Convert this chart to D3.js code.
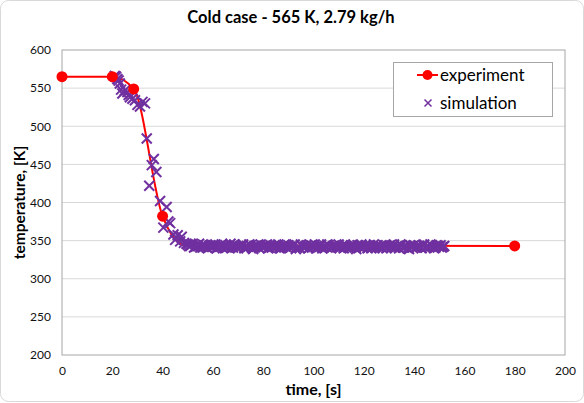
<!DOCTYPE html>
<html>
<head>
<meta charset="utf-8">
<script src="https://cdn.jsdelivr.net/npm/d3@7"></script>
<style>
  html, body { margin: 0; padding: 0; background: #fff; }
  svg { display: block; font-family: Lato, "Open Sans", sans-serif; }
</style>
</head>
<body>
<svg id="chart" width="584" height="403"></svg>
<script>
// ---- data ----
const titleText = "Cold case - 565 K, 2.79 kg/h";
const xLabel = "time, [s]";
const yLabel = "temperature, [K]";
const xTicks = [0, 20, 40, 60, 80, 100, 120, 140, 160, 180, 200];
const yTicks = [200, 250, 300, 350, 400, 450, 500, 550, 600];

const expTime = [0, 20, 28.5, 40, 49, 180];
const expTemp = [565, 565, 549, 382, 344, 343];

// simulation: transient + whole-second samples of the plateau
const simTime = [21, 21.5, 22, 22.5, 23, 23.5, 24, 25, 26, 26.5, 27, 28, 29, 30, 31, 32, 33, 33.7, 34.7, 35.7, 36.5, 37.5, 39, 40.3, 41.6, 42.3, 43, 44.3, 45, 46, 47, 47.6, 48.5, 49.5,
  50, 51, 52, 53, 54, 55, 56, 57, 58, 59,
  60, 61, 62, 63, 64, 65, 66, 67, 68, 69,
  70, 71, 72, 73, 74, 75, 76, 77, 78, 79,
  80, 81, 82, 83, 84, 85, 86, 87, 88, 89,
  90, 91, 92, 93, 94, 95, 96, 97, 98, 99,
  100, 101, 102, 103, 104, 105, 106, 107, 108, 109,
  110, 111, 112, 113, 114, 115, 116, 117, 118, 119,
  120, 121, 122, 123, 124, 125, 126, 127, 128, 129,
  130, 131, 132, 133, 134, 135, 136, 137, 138, 139,
  140, 141, 142, 143, 144, 145, 146, 147, 148, 149,
  150, 151, 152];
const simTemp = [566, 565, 562, 560, 556, 548, 543, 547, 545, 541, 538, 536, 534, 528, 526, 532, 530, 484, 422, 449, 457, 440, 402, 367, 394, 375, 373, 358, 351, 357, 349, 355, 347, 346,
  345, 343, 346, 342, 344, 341, 345, 343, 340, 344,
  342, 345, 341, 343, 340, 344, 342, 346, 341, 343,
  340, 343, 345, 341, 342, 344, 339, 343, 342, 345,
  341, 343, 340, 344, 342, 341, 345, 340, 343, 342,
  344, 341, 343, 339, 342, 345, 341, 343, 340, 344,
  342, 340, 343, 345, 341, 342, 344, 340, 343, 341,
  345, 342, 340, 343, 341, 344, 342, 339, 343, 345,
  341, 344, 342, 340, 345, 343, 341, 342, 344, 340,
  343, 341, 345, 342, 340, 344, 341, 343, 339, 342,
  344, 341, 343, 340, 345, 342, 341, 343, 340, 344,
  342, 341, 343];

// simulation: half-second samples of the plateau
const simHalfTime = [50.5, 51.5, 52.5, 53.5, 54.5, 55.5, 56.5, 57.5, 58.5, 59.5,
  60.5, 61.5, 62.5, 63.5, 64.5, 65.5, 66.5, 67.5, 68.5, 69.5,
  70.5, 71.5, 72.5, 73.5, 74.5, 75.5, 76.5, 77.5, 78.5, 79.5,
  80.5, 81.5, 82.5, 83.5, 84.5, 85.5, 86.5, 87.5, 88.5, 89.5,
  90.5, 91.5, 92.5, 93.5, 94.5, 95.5, 96.5, 97.5, 98.5, 99.5,
  100.5, 101.5, 102.5, 103.5, 104.5, 105.5, 106.5, 107.5, 108.5, 109.5,
  110.5, 111.5, 112.5, 113.5, 114.5, 115.5, 116.5, 117.5, 118.5, 119.5,
  120.5, 121.5, 122.5, 123.5, 124.5, 125.5, 126.5, 127.5, 128.5, 129.5,
  130.5, 131.5, 132.5, 133.5, 134.5, 135.5, 136.5, 137.5, 138.5, 139.5,
  140.5, 141.5, 142.5, 143.5, 144.5, 145.5, 146.5, 147.5, 148.5, 149.5,
  150.5, 151.5];
const simHalfTemp = [343, 345, 341, 343, 346, 342, 344, 341, 343, 342,
  344, 340, 343, 345, 342, 341, 344, 342, 345, 341,
  342, 344, 340, 343, 345, 341, 343, 344, 340, 342,
  343, 345, 341, 342, 344, 343, 340, 342, 345, 341,
  342, 343, 345, 341, 340, 343, 342, 344, 341, 343,
  345, 341, 342, 340, 343, 345, 341, 342, 344, 342,
  341, 343, 345, 342, 340, 343, 341, 344, 341, 342,
  343, 340, 344, 342, 341, 344, 342, 340, 343, 342,
  344, 342, 341, 343, 345, 341, 342, 340, 344, 343,
  341, 343, 342, 344, 341, 343, 345, 342, 341, 343,
  344, 342];

const seriesNames = ["experiment", "simulation"];
const expColor = "#FF0000";
const simColor = "#7030A0";

// ---- drawing ----
const svg = d3.select("#chart");
const W = 584, H = 403;
const x = d3.scaleLinear().domain([0, 200]).range([62, 565]);
const y = d3.scaleLinear().domain([200, 600]).range([355, 50]);

// outer chart border
svg.append("rect").attr("x", 0.5).attr("y", 0.5).attr("width", W - 1).attr("height", H - 2)
  .attr("rx", 8).attr("fill", "#fff").attr("stroke", "#d9d9d9");

// title
svg.append("text").attr("x", 291).attr("y", 23).attr("text-anchor", "middle")
  .attr("font-weight", "bold").attr("font-size", 16.5).attr("fill", "#000").text(titleText);

// gridlines
svg.append("g").selectAll("line").data(yTicks.slice(1, -1)).join("line")
  .attr("x1", x(0)).attr("x2", x(200))
  .attr("y1", d => y(d)).attr("y2", d => y(d))
  .attr("stroke", "#d9d9d9").attr("stroke-width", 1);

// plot border
svg.append("rect").attr("x", x(0)).attr("y", y(600))
  .attr("width", x(200) - x(0)).attr("height", y(200) - y(600))
  .attr("fill", "none").attr("stroke", "#a6a6a6").attr("stroke-width", 1);

// axes
const xAxis = d3.axisBottom(x).tickValues(xTicks).tickSize(0).tickPadding(11);
const gx = svg.append("g").attr("transform", `translate(0,${y(200)})`).call(xAxis);
gx.select(".domain").remove();
gx.selectAll("text").attr("font-size", 12).attr("font-family", "Lato, sans-serif").attr("fill", "#111");

const yAxis = d3.axisLeft(y).tickValues(yTicks).tickSize(0).tickPadding(11);
const gy = svg.append("g").attr("transform", `translate(${x(0)},0)`).call(yAxis);
gy.select(".domain").remove();
gy.selectAll("text").attr("font-size", 12).attr("font-family", "Lato, sans-serif").attr("fill", "#111");

// axis titles
svg.append("text").attr("x", (x(0) + x(200)) / 2).attr("y", 395).attr("text-anchor", "middle")
  .attr("font-weight", "bold").attr("font-size", 16).text(xLabel);
svg.append("text").attr("transform", `translate(25,${(y(200) + y(600)) / 2}) rotate(-90)`)
  .attr("text-anchor", "middle").attr("font-weight", "bold").attr("font-size", 15.5).text(yLabel);

// experiment line
const expData = expTime.map((t, i) => [t, expTemp[i]]);
const line = d3.line().x(d => x(d[0])).y(d => y(d[1])).curve(d3.curveMonotoneX);
svg.append("path").datum(expData).attr("d", line).attr("fill", "none")
  .attr("stroke", expColor).attr("stroke-width", 2);

// simulation crosses
const simData = simTime.map((t, i) => [t, simTemp[i]])
  .concat(simHalfTime.map((t, i) => [t, simHalfTemp[i]]));
const cross = "M-5,-5L5,5M5,-5L-5,5";
svg.append("g").selectAll("path").data(simData).join("path")
  .attr("transform", d => `translate(${x(d[0])},${y(d[1])})`)
  .attr("d", cross).attr("stroke", simColor).attr("stroke-width", 2).attr("fill", "none");

// experiment dots (drawn above line)
svg.append("g").selectAll("circle").data(expData.filter(d => d[0] !== 49)).join("circle")
  .attr("cx", d => x(d[0])).attr("cy", d => y(d[1])).attr("r", 5.5).attr("fill", expColor);

// legend
const lg = svg.append("g");
lg.append("rect").attr("x", 393.5).attr("y", 62.5).attr("width", 159).attr("height", 54)
  .attr("fill", "#fff").attr("stroke", "#a6a6a6");
lg.append("line").attr("x1", 417).attr("x2", 438).attr("y1", 75).attr("y2", 75)
  .attr("stroke", expColor).attr("stroke-width", 2);
lg.append("circle").attr("cx", 427.5).attr("cy", 75).attr("r", 5).attr("fill", expColor);
lg.append("path").attr("transform", "translate(428,103)").attr("d", "M-3.5,-3.5L3.5,3.5M3.5,-3.5L-3.5,3.5")
  .attr("stroke", simColor).attr("stroke-width", 1.5);
lg.append("text").attr("x", 440).attr("y", 81).attr("font-size", 17).text(seriesNames[0]);
lg.append("text").attr("x", 440).attr("y", 109).attr("font-size", 17).text(seriesNames[1]);
</script>
</body>
</html>
